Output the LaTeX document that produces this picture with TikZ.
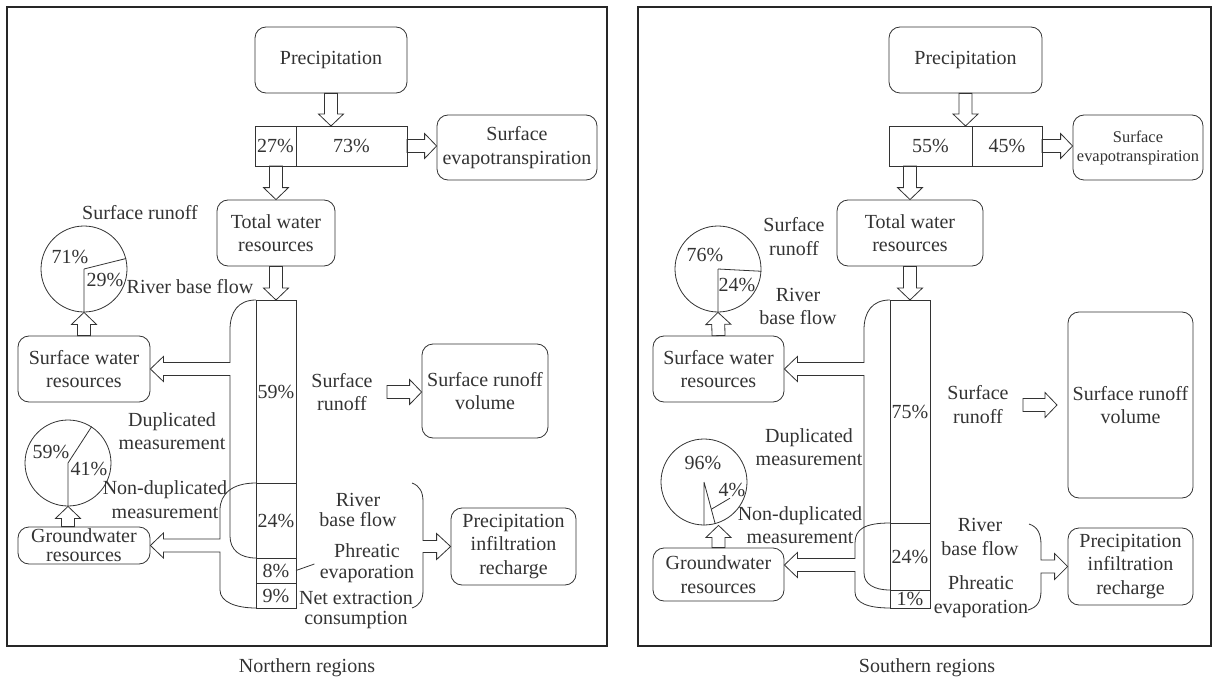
\documentclass[tikz,border=0pt]{standalone}
\usepackage{fontspec}
\setmainfont{Liberation Serif}
\usetikzlibrary{calc,positioning}
\tikzset{
  box/.style={draw, rounded corners=11pt, align=center, inner sep=0pt},
  cell/.style={draw, inner sep=0pt, outer sep=0pt, minimum width=40pt},
  pie/.style={draw, circle, inner sep=0pt, minimum size=86pt},
  lbl/.style={align=center, inner sep=0pt},
  frame/.style={draw=black!85, line width=1.2pt},
  hollow/.style={to path={
    ($(\tikztostart)!6.5pt!90:(\tikztotarget)$)
    -- ($(\tikztotarget)!12pt!(\tikztostart)!6.5pt!-90:(\tikztostart)$)
    -- ($(\tikztotarget)!12pt!(\tikztostart)!12.5pt!-90:(\tikztostart)$)
    -- (\tikztotarget)
    -- ($(\tikztotarget)!12pt!(\tikztostart)!12.5pt!90:(\tikztostart)$)
    -- ($(\tikztotarget)!12pt!(\tikztostart)!6.5pt!90:(\tikztostart)$)
    -- ($(\tikztostart)!6.5pt!-90:(\tikztotarget)$)
    -- cycle}}
}
\begin{document}
\begin{tikzpicture}[x=1pt, y=-1pt, line width=0.8pt, color=black!80,
  font=\fontsize{20}{23.5}\selectfont]
  \useasboundingbox (0,0) rectangle (1213,682);
  \draw[frame] (7,7) rectangle (607,646);
  \draw[frame] (638,7) rectangle (1211,646);
  \node (capN) at (307,668) {Northern regions};
  \node (capS) at (927,668) {Southern regions};

  % northern regions
  \node[box, minimum width=152pt, minimum height=66pt] (precN) at (331,60) {Precipitation};
  \node[cell, minimum width=41pt, minimum height=40pt, anchor=north west] (n27) at (255,126) {27\%};
  \node[cell, minimum width=111pt, minimum height=40pt, right=0pt of n27] (n73) {73\%};
  \node[box, minimum width=160pt, minimum height=65pt] (evapN) at (517,147.5) {Surface\\evapotranspiration};
  \node[box, minimum width=118pt, minimum height=66pt] (totN) at (276,233) {Total water\\resources};
  \node[cell, minimum height=183pt, anchor=north] (n59) at (276,300) {59\%};
  \node[cell, minimum height=75pt, below=0pt of n59] (n24) {24\%};
  \node[cell, minimum height=25pt, below=0pt of n24] (n8) {8\%};
  \node[cell, minimum height=25pt, below=0pt of n8] (n9) {9\%};
  \node[box, minimum width=126pt, minimum height=94pt] (sroN) at (485,391) {Surface runoff\\volume};
  \node[box, minimum width=125pt, minimum height=77pt] (pirN) at (513.5,546.5) {Precipitation\\infiltration\\recharge};
  \node[box, minimum width=132pt, minimum height=66pt] (swrN) at (84,369) {Surface water\\resources};
  \node[box, minimum width=132pt, minimum height=37pt, font=\fontsize{20}{19}\selectfont] (gwrN) at (84,545.5) {Groundwater\\resources};
  \node[pie] (pSN) at (84,269) {};
  \draw (pSN.center) -- (pSN.south) (pSN.center) -- (pSN.14.4);
  \node (p71N) at (70,257) {71\%};
  \node (p29N) at (105,280) {29\%};
  \node[pie] (pGN) at (68,463) {};
  \draw (pGN.center) -- (pGN.south) (pGN.center) -- (pGN.57.6);
  \node (p59N) at (51,452) {59\%};
  \node (p41N) at (89,469) {41\%};
  \node[lbl] (lSRN) at (140,213) {Surface runoff};
  \node[lbl] (lRBN) at (190,287) {River base flow};
  \node[lbl] (lDMN) at (172,431) {Duplicated\\measurement};
  \node[lbl] (lNDN) at (165,499.5) {Non-duplicated\\measurement};
  \node[lbl] (lSR2N) at (342,392) {Surface\\runoff};
  \node[lbl, font=\fontsize{20}{20.5}\selectfont] (lRB2N) at (358,510) {River\\base flow};
  \node[lbl, font=\fontsize{20}{20.5}\selectfont] (lPEN) at (367,563) {Phreatic\\evaporation};
  \node[lbl, font=\fontsize{20}{20.5}\selectfont] (lNEN) at (356,610) {Net extraction\\consumption};
  \coordinate (aN1) at (precN.south |- n73.north);
  \coordinate (aN2) at (n73.east -| evapN.west);
  \coordinate (aN3) at (totN.north |- n27.south);
  \coordinate (aN4) at (pGN.south |- gwrN.north);
  \coordinate (aN5) at (387,392);
  \coordinate (aN6) at (aN5 -| sroN.west);
  \draw (precN.south) to[hollow] (aN1);
  \draw (n73.east) to[hollow] (aN2);
  \draw (aN3) to[hollow] (totN.north);
  \draw (totN.south) to[hollow] (n59.north);
  \draw (swrN.north) to[hollow] (pSN.south);
  \draw (aN4) to[hollow] (pGN.south);
  \draw (aN5) to[hollow] (aN6);
  \draw (n8.east) -- ($(lPEN.west)+(-5,1)$);
  % column to surface water and groundwater
  \draw (n59.north west) .. controls +(-18,0) and +(0,-18) .. ++(-26,30)
    |- ($(swrN.east)+(13,-6.5)$) -- ++(0,-6) -- (swrN.east) -- ++(13,12.5) -- ++(0,-6)
    -| ($(n24.south west)+(-26,-22)$) .. controls +(0,14) and +(-16,0) .. (n24.south west);
  \draw (n24.north west) .. controls +(-24,0) and +(0,-16) .. ++(-36,27)
    |- ($(gwrN.east)+(13,-6.5)$) -- ++(0,-6) -- (gwrN.east) -- ++(13,12.5) -- ++(0,-6)
    -| ($(n9.south west)+(-36,-18)$) .. controls +(0,12) and +(-20,0) .. (n9.south west);
  % brace to recharge
  \draw (412,483) .. controls (420,486) and (423,492) .. (423,502)
    |- ($(pirN.west)+(-14,-6)$) -- ++(0,-7) -- (pirN.west) -- ++(-14,13) -- ++(0,-7)
    -| (423,590) .. controls (423,600) and (420,605) .. (412,608);

  % southern regions
  \node[box, minimum width=153pt, minimum height=66pt] (precS) at (965.5,60) {Precipitation};
  \node[cell, minimum width=83pt, minimum height=40pt, anchor=north west] (s55) at (889,126) {55\%};
  \node[cell, minimum width=70pt, minimum height=40pt, right=0pt of s55] (s45) {45\%};
  \node[box, minimum width=130pt, minimum height=65pt, font=\fontsize{16.4}{19}\selectfont] (evapS) at (1138,147.5) {Surface\\evapotranspiration};
  \node[box, minimum width=146pt, minimum height=66pt] (totS) at (910,233) {Total water\\resources};
  \node[cell, minimum height=223pt, anchor=north] (s75) at (910,300) {75\%};
  \node[cell, minimum height=67pt, below=0pt of s75] (s24) {24\%};
  \node[cell, minimum height=18pt, below=0pt of s24] (s1) {1\%};
  \node[box, minimum width=125pt, minimum height=186pt] (sroS) at (1130.5,405) {Surface runoff\\volume};
  \node[box, minimum width=125pt, minimum height=77pt] (pirS) at (1130.5,566.5) {Precipitation\\infiltration\\recharge};
  \node[box, minimum width=131pt, minimum height=66pt] (swrS) at (718.5,369) {Surface water\\resources};
  \node[box, minimum width=131pt, minimum height=53pt] (gwrS) at (718.5,574.5) {Groundwater\\resources};
  \node[pie] (pSS) at (718,269) {};
  \draw (pSS.center) -- (pSS.south) (pSS.center) -- (pSS.-3.6);
  \node (p76S) at (705,255) {76\%};
  \node (p24S) at (737,285) {24\%};
  \node[pie] (pGS) at (704,482) {};
  \draw (pGS.center) -- (pGS.south) (pGS.center) -- (pGS.-75.6);
  \node (p96S) at (703,463) {96\%};
  \node[inner sep=0pt] (p4S) at (732,490) {4\%};
  \draw ($(pGS.center)!0.65!(pGS.-75.6)$) -- ($(p4S.south)+(-2,1)$);
  \node[lbl] (lSRS) at (794,236.5) {Surface\\runoff};
  \node[lbl] (lRBS) at (798,306.5) {River\\base flow};
  \node[lbl] (lDMS) at (809,447) {Duplicated\\measurement};
  \node[lbl] (lNDS) at (800,525) {Non-duplicated\\measurement};
  \node[lbl] (lSR2S) at (978,404.5) {Surface\\runoff};
  \node[lbl] (lRB2S) at (980,537) {River\\base flow};
  \node[lbl] (lPES) at (981,596.5) {Phreatic\\evaporation};
  \coordinate (aS1) at (precS.south |- s55.north);
  \coordinate (aS2) at (s45.east -| evapS.west);
  \coordinate (aS3) at (totS.north |- s55.south);
  \coordinate (aS4) at (gwrS.north |- pGS.south);
  \coordinate (aS5) at (1023,405);
  \coordinate (aS6) at (1057,405);
  \coordinate (aS7) at ($(gwrS.east)+(0,-9.5)$);
  \draw (precS.south) to[hollow] (aS1);
  \draw (s45.east) to[hollow] (aS2);
  \draw (aS3) to[hollow] (totS.north);
  \draw (totS.south) to[hollow] (s75.north);
  \draw (swrS.north) to[hollow] (pSS.south);
  \draw (gwrS.north) to[hollow] (aS4);
  \draw (aS5) to[hollow] (aS6);
  % column to surface water and groundwater
  \draw (s75.north west) .. controls +(-18,0) and +(0,-18) .. ++(-26,30)
    |- ($(swrS.east)+(13,-6.5)$) -- ++(0,-6) -- (swrS.east) -- ++(13,12.5) -- ++(0,-6)
    -| ($(s24.south west)+(-26,-17)$) .. controls +(0,11) and +(-16,0) .. (s24.south west);
  \draw (s24.north west) .. controls +(-25,0) and +(0,-14) .. ++(-35,20)
    |- ($(aS7)+(13,-6.5)$) -- ++(0,-6) -- (aS7) -- ++(13,12.5) -- ++(0,-6)
    -| ($(s1.south west)+(-35,-16)$) .. controls +(0,11) and +(-22,0) .. (s1.south west);
  % brace to recharge
  \draw (1029,524) .. controls (1038,527) and (1041,534) .. (1041,545)
    |- ($(pirS.west)+(-13,-6.5)$) -- ++(0,-6.5) -- (pirS.west) -- ++(-13,13) -- ++(0,-6.5)
    -| (1041,590) .. controls (1041,601) and (1038,607) .. (1028,610);
\end{tikzpicture}
\end{document}
